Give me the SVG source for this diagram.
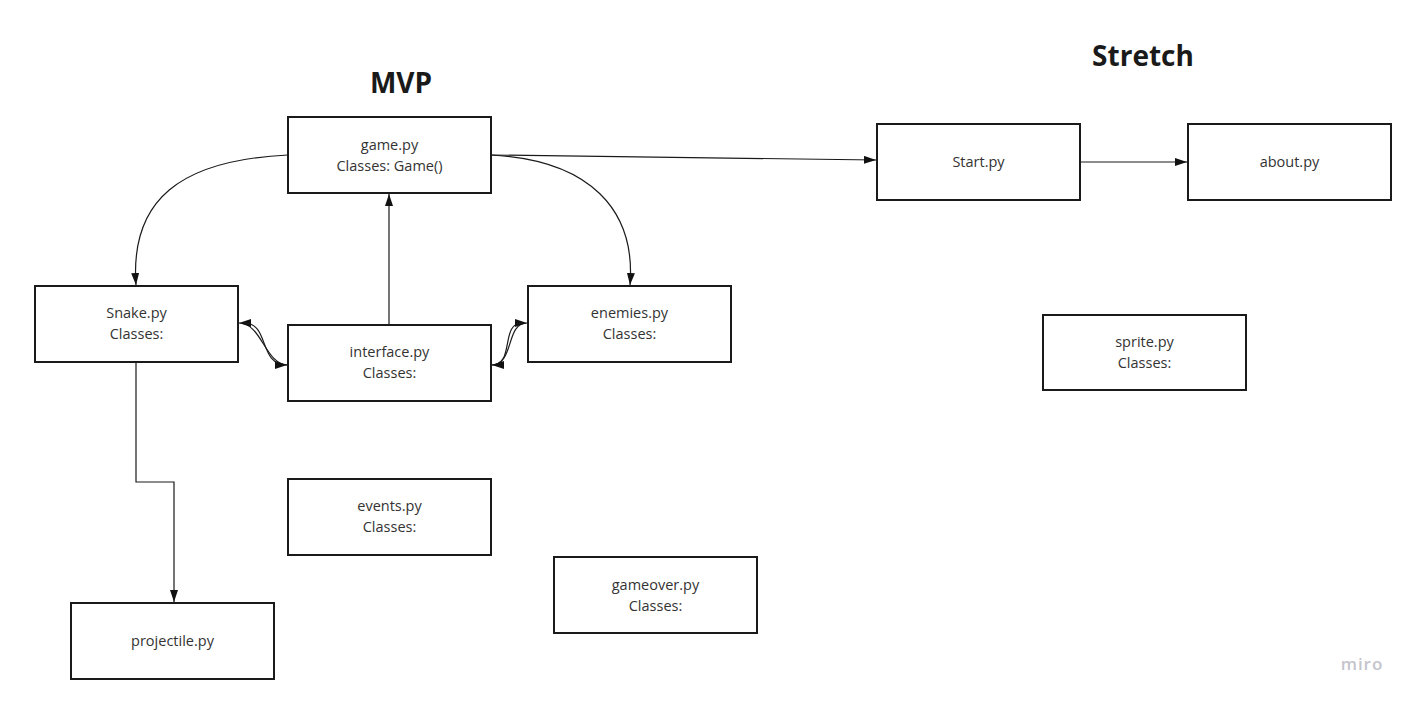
<svg xmlns="http://www.w3.org/2000/svg" width="1418" height="704" viewBox="0 0 1418 704">
<style>
.box{fill:#fff;stroke:#1a1a1a;stroke-width:2}
.t{font-family:"Open Sans","Noto Sans",sans-serif;font-size:14.5px;fill:#333;text-anchor:middle}
.h{font-family:"Open Sans","Noto Sans",sans-serif;font-size:28px;font-weight:bold;fill:#1a1a1a;text-anchor:middle}
.c{fill:none;stroke:#1a1a1a;stroke-width:1.2}
</style>
<defs>
<marker id="a" viewBox="0 0 12 8" refX="12" refY="4" markerWidth="12" markerHeight="8" markerUnits="userSpaceOnUse" orient="auto">
<path d="M0,0 L12,4 L0,8 Z" fill="#111"/>
</marker>
</defs>
<rect width="1418" height="704" fill="#fff"/>
<text class="h" x="401" y="93">MVP</text>
<text class="h" x="1143" y="66">Stretch</text>
<g id="connectors">
<path class="c" d="M288,155 C180,160 130,200 136,285" marker-end="url(#a)"/>
<path class="c" d="M491,155 C590,160 636,210 630,285" marker-end="url(#a)"/>
<path class="c" d="M491,155 L876,160" marker-end="url(#a)"/>
<path class="c" d="M1080,162 L1187,162" marker-end="url(#a)"/>
<path class="c" d="M389,325 L389,194" marker-end="url(#a)"/>
<path class="c" d="M136,362 L136,482 L174,482 L174,602" marker-end="url(#a)"/>
<path class="c" d="M288,365 C265,365 262,323 239,323" marker-end="url(#a)"/>
<path class="c" d="M244,323 C270,323 258,365 287,365" marker-end="url(#a)"/>
<path class="c" d="M491,365 C515,365 505,323 527,323" marker-end="url(#a)"/>
<path class="c" d="M522,323 C500,323 515,365 492,365" marker-end="url(#a)"/>
</g>
<g id="game"><rect class="box" x="288" y="117" width="203" height="76"/><text class="t" x="389.5" y="150">game.py</text><text class="t" x="389.5" y="171">Classes: Game()</text></g>
<g id="start"><rect class="box" x="877" y="124" width="203" height="76"/><text class="t" x="978.5" y="167">Start.py</text></g>
<g id="about"><rect class="box" x="1188" y="124" width="203" height="76"/><text class="t" x="1289.5" y="167">about.py</text></g>
<g id="snake"><rect class="box" x="35" y="286" width="203" height="76"/><text class="t" x="136.5" y="318">Snake.py</text><text class="t" x="136.5" y="339">Classes:</text></g>
<g id="interface"><rect class="box" x="288" y="325" width="203" height="76"/><text class="t" x="389.5" y="357">interface.py</text><text class="t" x="389.5" y="378">Classes:</text></g>
<g id="enemies"><rect class="box" x="528" y="286" width="203" height="76"/><text class="t" x="629.5" y="318">enemies.py</text><text class="t" x="629.5" y="339">Classes:</text></g>
<g id="sprite"><rect class="box" x="1043" y="315" width="203" height="75"/><text class="t" x="1144.5" y="347">sprite.py</text><text class="t" x="1144.5" y="368">Classes:</text></g>
<g id="events"><rect class="box" x="288" y="479" width="203" height="76"/><text class="t" x="389.5" y="511">events.py</text><text class="t" x="389.5" y="532">Classes:</text></g>
<g id="gameover"><rect class="box" x="554" y="557" width="203" height="76"/><text class="t" x="655.5" y="590">gameover.py</text><text class="t" x="655.5" y="611">Classes:</text></g>
<g id="projectile"><rect class="box" x="71" y="603" width="203" height="76"/><text class="t" x="172.5" y="646">projectile.py</text></g>
<text x="1362" y="670" style="font-family:'Open Sans','Noto Sans',sans-serif;font-size:17px;font-weight:600;fill:#c4c4cc;text-anchor:middle;letter-spacing:1px">miro</text>
</svg>
